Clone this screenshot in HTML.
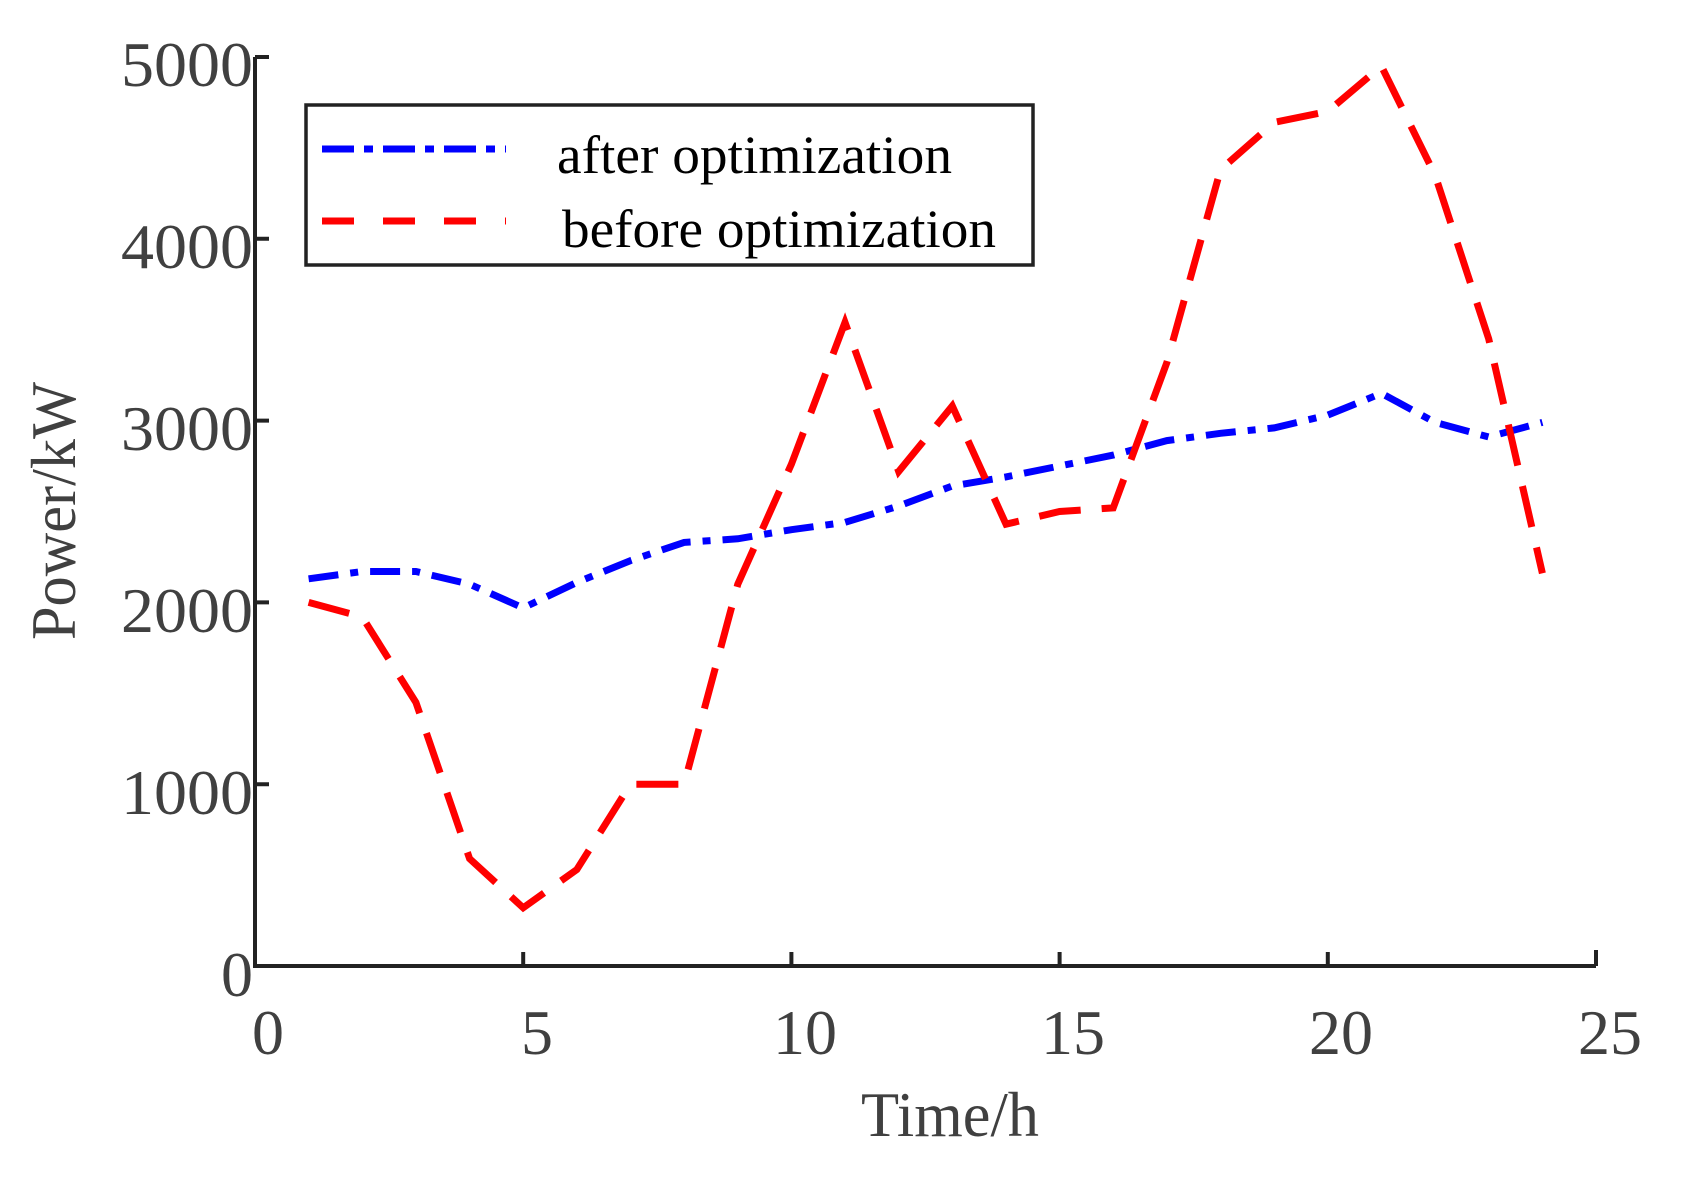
<!DOCTYPE html>
<html><head><meta charset="utf-8"><style>html,body{margin:0;padding:0;background:#fff}svg{display:block}</style></head>
<body>
<svg width="1685" height="1183" viewBox="0 0 1685 1183" xmlns="http://www.w3.org/2000/svg" font-family="Liberation Serif, serif">
<rect width="1685" height="1183" fill="#fff"/>
<g stroke="#222" stroke-width="4" fill="none">
<path d="M255,57 V966 H1596"/>
<path d="M255,57 h14 M255,238.8 h14 M255,420.6 h14 M255,602.4 h14 M255,784.2 h14"/>
<path d="M523.2,966 v-14 M791.4,966 v-14 M1059.6,966 v-14 M1327.8,966 v-14 M1596,966 v-16"/>
</g>
<g fill="#404040" font-size="64" text-anchor="end">
<text x="253" y="86" textLength="132" lengthAdjust="spacingAndGlyphs">5000</text>
<text x="253" y="268" textLength="132" lengthAdjust="spacingAndGlyphs">4000</text>
<text x="253" y="450" textLength="132" lengthAdjust="spacingAndGlyphs">3000</text>
<text x="253" y="632" textLength="132" lengthAdjust="spacingAndGlyphs">2000</text>
<text x="253" y="814" textLength="132" lengthAdjust="spacingAndGlyphs">1000</text>
<text x="253" y="996">0</text>
</g>
<g fill="#404040" font-size="64" text-anchor="middle">
<text x="268" y="1054">0</text>
<text x="537" y="1054">5</text>
<text x="805" y="1054">10</text>
<text x="1073" y="1054">15</text>
<text x="1341" y="1054">20</text>
<text x="1610" y="1054">25</text>
<text x="950" y="1136" textLength="178" lengthAdjust="spacingAndGlyphs">Time/h</text>
<text transform="translate(75,511) rotate(-90)" x="0" y="0" textLength="258" lengthAdjust="spacingAndGlyphs">Power/kW</text>
</g>
<polyline fill="none" stroke="#0000ff" stroke-width="7" stroke-dasharray="30,12,8,12" points="308.6,578.8 362.3,571.5 415.9,571.5 469.6,584.2 523.2,607.9 576.8,582.4 630.5,560.6 684.1,542.4 737.8,538.8 791.4,529.7 845,522.4 898.7,506 952.3,486 1006,476.9 1059.6,466 1113.2,455.1 1166.9,440.6 1220.5,433.3 1274.2,427.9 1327.8,415.1 1381.4,393.3 1435.1,422.4 1488.7,437 1542.4,422.4"/>
<polyline fill="none" stroke="#ff0000" stroke-width="7" stroke-dasharray="42,21" points="308.6,602.4 362.3,617 415.9,702.4 469.6,858.7 523.2,907.8 576.8,869.6 630.5,784.2 684.1,784.2 737.8,584.2 791.4,464.2 845,322.4 898.7,471.5 952.3,406 1006,524.2 1059.6,511.5 1113.2,507.9 1166.9,362.4 1220.5,169.7 1274.2,122.4 1327.8,111.5 1381.4,66.1 1435.1,175.2 1488.7,338.8 1542.4,573.3"/>
<rect x="306" y="105" width="727" height="160" fill="#fff" stroke="#222" stroke-width="3.5"/>
<line x1="322" y1="149" x2="506" y2="149" stroke="#0000ff" stroke-width="7" stroke-dasharray="32,10,9,10"/>
<line x1="322" y1="221" x2="506" y2="221" stroke="#ff0000" stroke-width="7" stroke-dasharray="32,29"/>
<g fill="#000" font-size="54">
<text x="557" y="173" textLength="395" lengthAdjust="spacingAndGlyphs">after optimization</text>
<text x="562" y="247" textLength="434" lengthAdjust="spacingAndGlyphs">before optimization</text>
</g>
</svg>
</body></html>
